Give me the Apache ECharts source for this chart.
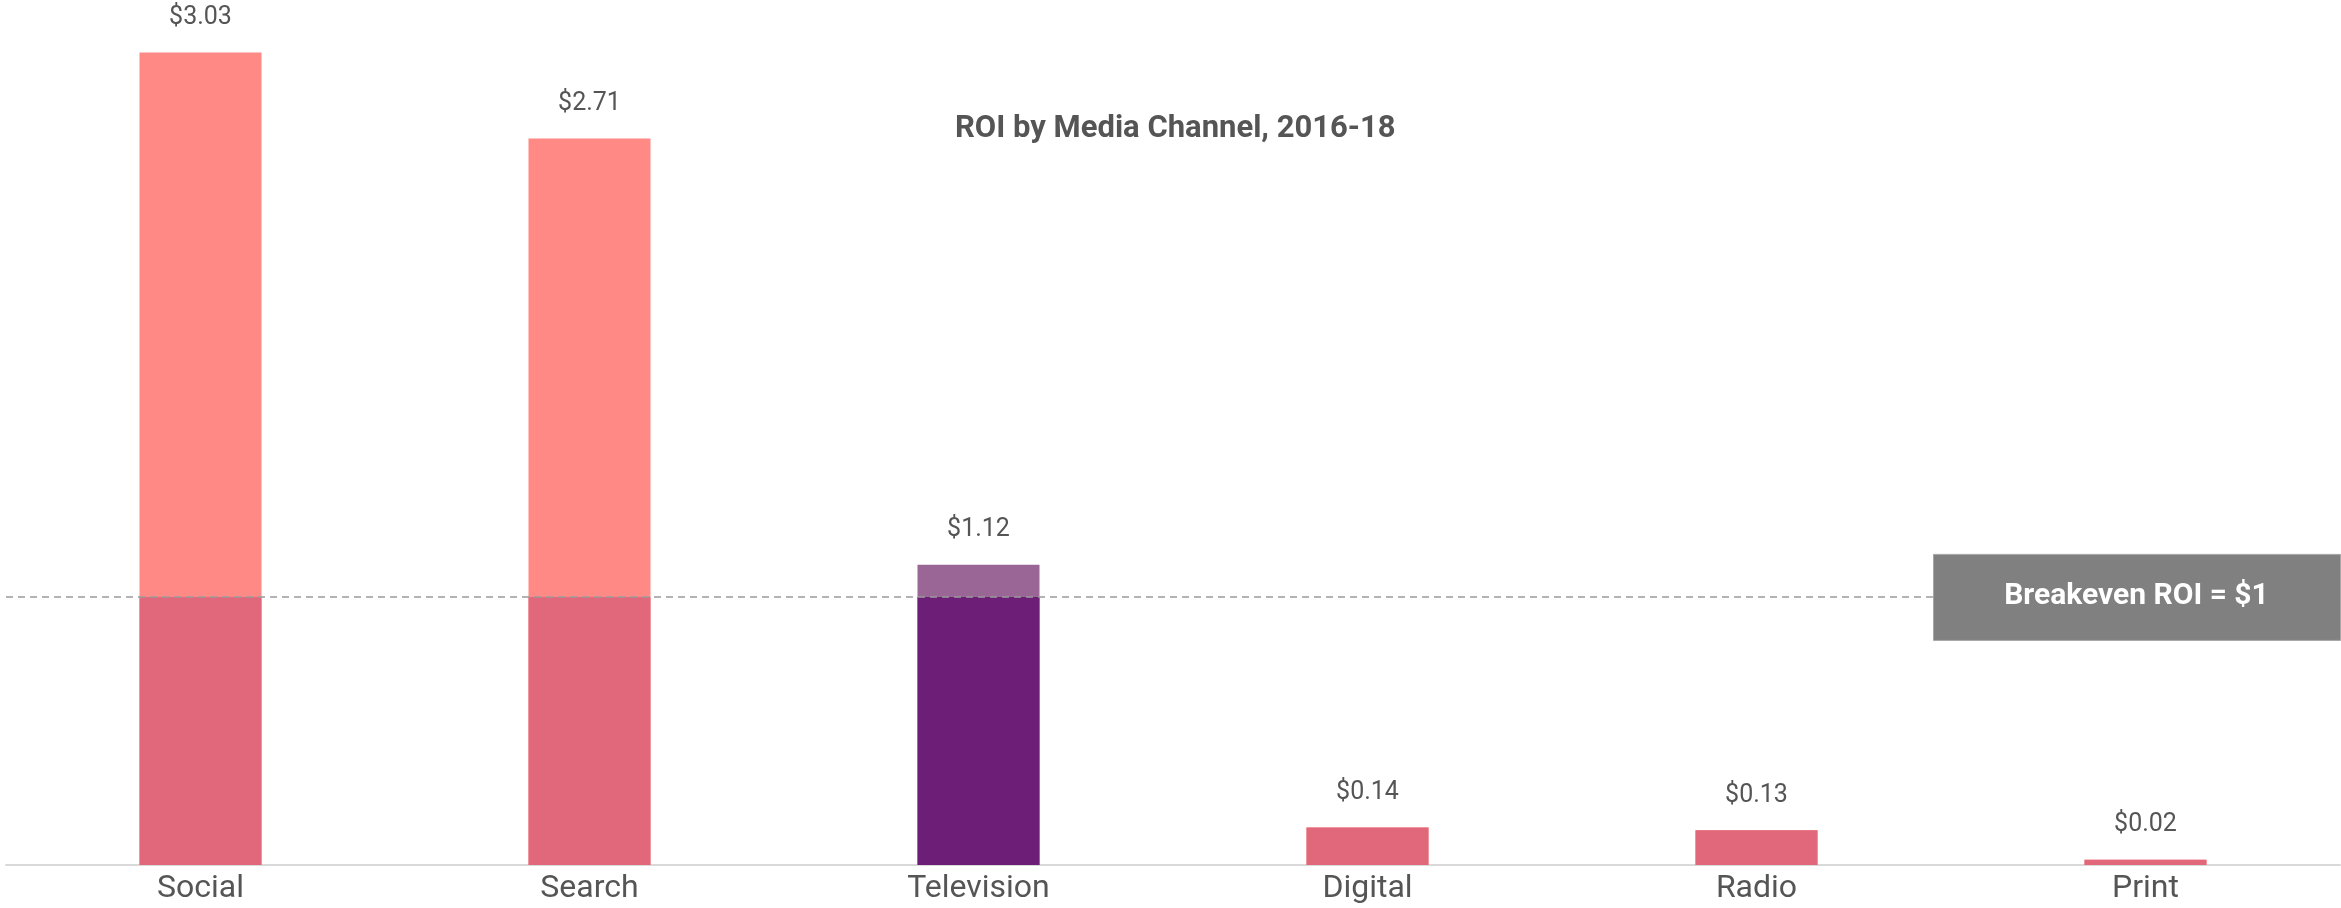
<!DOCTYPE html>
<html>
<head>
<meta charset="utf-8">
<title>ROI by Media Channel, 2016-18</title>
<script src="https://cdn.jsdelivr.net/npm/echarts@6/dist/echarts.min.js"></script>
<style>
  html, body { margin: 0; padding: 0; background: #ffffff; }
  #chart { width: 2341px; height: 908px; }
</style>
</head>
<body>
<div id="chart"></div>
<script>
// Return on investment per media channel (dollars returned per dollar spent)
const channels = ['Social', 'Search', 'Television', 'Digital', 'Radio', 'Print'];
const roi = [3.03, 2.71, 1.12, 0.14, 0.13, 0.02];
const breakeven = 1;
const featured = 'Television';

const FONT = 'Roboto, "Liberation Sans", sans-serif';
const TEXT = '#555555';

// Portion of each bar that sits at or below the breakeven level
const belowBreakeven = roi.map(v => Math.min(v, breakeven));

const chart = echarts.init(document.getElementById('chart'), null, { renderer: 'canvas' });

const option = {
  animation: false,
  backgroundColor: '#ffffff',
  title: {
    text: 'ROI by Media Channel, 2016-18',
    left: 950,
    top: 109,
    textStyle: { fontFamily: FONT, fontSize: 31, fontWeight: 'bold', color: TEXT }
  },
  grid: { left: 6, right: 1, top: 7, bottom: 43, containLabel: false },
  xAxis: {
    type: 'category',
    data: channels,
    axisLine: { show: true, lineStyle: { color: '#d9d9d9', width: 2 } },
    axisTick: { show: false },
    axisLabel: { fontFamily: FONT, fontSize: 32, color: TEXT, margin: 8 }
  },
  yAxis: {
    type: 'value',
    min: 0,
    max: 3.2,
    show: false,
    splitLine: { show: false }
  },
  series: [
    {
      name: 'ROI',
      type: 'bar',
      data: roi,
      barWidth: 122,
      itemStyle: {
        color: p => channels[p.dataIndex] === featured ? '#9a6696' : '#ff8984'
      },
      label: {
        show: true,
        position: 'top',
        distance: 22,
        fontFamily: FONT,
        fontSize: 25,
        color: TEXT,
        formatter: p => '$' + roi[p.dataIndex].toFixed(2)
      },
      markLine: {
        silent: true,
        symbol: 'none',
        label: { show: false },
        lineStyle: { type: [7, 5], color: '#9a9a9a', width: 1.5 },
        data: [{ yAxis: breakeven }]
      },
      z: 2
    },
    {
      name: 'Below breakeven',
      type: 'bar',
      data: belowBreakeven,
      barWidth: 122,
      barGap: '-100%',
      itemStyle: {
        color: p => channels[p.dataIndex] === featured ? '#6d1e77' : '#e1687a'
      },
      z: 3
    }
  ]
};

chart.setOption(option);

// Callout box sitting on the breakeven line at the right edge
const lineY = chart.convertToPixel({ yAxisIndex: 0 }, breakeven);
const boxW = 407, boxH = 86, boxX = 1933;
chart.setOption({
  graphic: [
    {
      type: 'rect',
      zlevel: 1,
      z: 100,
      left: boxX,
      top: lineY - boxH / 2,
      shape: { x: 0, y: 0, width: boxW, height: boxH },
      style: { fill: '#808080', stroke: '#a6a6a6', lineWidth: 1 }
    },
    {
      type: 'text',
      zlevel: 1,
      z: 101,
      x: boxX + boxW / 2,
      y: lineY,
      style: {
        text: 'Breakeven ROI = $1',
        fill: '#ffffff',
        font: 'bold 30px ' + FONT,
        align: 'center',
        verticalAlign: 'middle'
      }
    }
  ]
});
</script>
</body>
</html>
